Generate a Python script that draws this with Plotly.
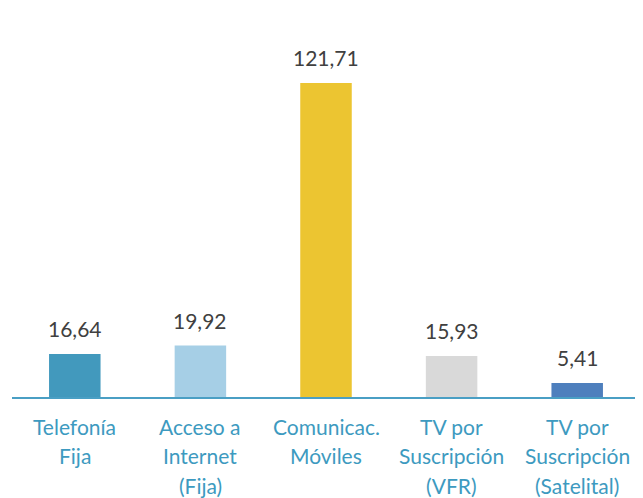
import plotly.graph_objects as go

categories = ["Telefonía Fija", "Acceso a Internet (Fija)", "Comunicac. Móviles",
              "TV por Suscripción (VFR)", "TV por Suscripción (Satelital)"]
label_lines = [["Telefonía", "Fija"], ["Acceso a", "Internet", "(Fija)"], ["Comunicac.", "Móviles"],
               ["TV por", "Suscripción", "(VFR)"], ["TV por", "Suscripción", "(Satelital)"]]
values = [16.64, 19.92, 121.71, 15.93, 5.41]
colors = ["#4299bd", "#a6cfe6", "#ecc531", "#d9d9d9", "#4e7fbd"]

FONT = "Lato, Calibri, sans-serif"

fig = go.Figure(go.Bar(x=categories, y=values, marker=dict(color=colors, line=dict(width=0)),
                       width=0.41, hoverinfo="skip"))

annotations = []
for c, v in zip(categories, values):
    annotations.append(dict(x=c, y=v, xref="x", yref="y", text=f"{v:.2f}".replace(".", ","),
                            showarrow=False, yanchor="bottom", yshift=11,
                            font=dict(family=FONT, size=21, color="#404040")))
for c, lines in zip(categories, label_lines):
    for i, ln in enumerate(lines):
        annotations.append(dict(x=c, y=0, xref="x", yref="y", text=ln, showarrow=False,
                                yanchor="middle", yshift=-29 - 29.5 * i,
                                font=dict(family=FONT, size=21, color="#3d9ac0")))

fig.update_layout(
    width=635, height=490,
    margin=dict(l=4, r=3, t=2, b=101),
    paper_bgcolor="white", plot_bgcolor="white",
    showlegend=False,
    bargap=0.59,
    annotations=annotations,
    xaxis=dict(showticklabels=False, showline=True, linecolor="#4a9fc4", linewidth=2,
               ticks="", showgrid=False, zeroline=False, fixedrange=True),
    yaxis=dict(visible=False, range=[0, 150], showgrid=False, zeroline=False),
)
fig.write_html("out.html")
